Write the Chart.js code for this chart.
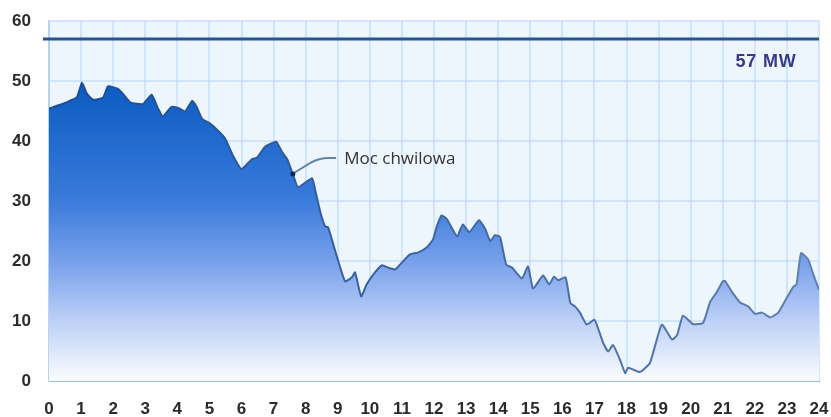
<!DOCTYPE html>
<html>
<head>
<meta charset="utf-8">
<script src="https://cdn.jsdelivr.net/npm/chart.js@4.4.1/dist/chart.umd.min.js"></script>
<style>
  html, body { margin: 0; padding: 0; background: #fff; }
  #wrap { width: 831px; height: 417px; }
</style>
</head>
<body>
<div id="wrap"><canvas id="power-chart"></canvas></div>
<script>
// Hour of day and instantaneous power (MW)
const hours = [
  0, 0.44, 0.65, 0.87, 1.03, 1.18, 1.37, 1.68, 1.84, 2.15, 2.3, 2.52, 2.73, 2.94,
  3.2, 3.4, 3.55, 3.82, 4.08, 4.24, 4.46, 4.6, 4.77, 5.02, 5.27, 5.49, 5.74, 6.0,
  6.33, 6.48, 6.73, 6.89, 7.08, 7.26, 7.42, 7.6, 7.76, 8.2, 8.29, 8.45, 8.6, 8.7,
  8.98, 9.23, 9.44, 9.54, 9.73, 9.9, 10.16, 10.38, 10.57, 10.79, 10.94, 11.25,
  11.5, 11.78, 11.97, 12.09, 12.24, 12.4, 12.72, 12.9, 13.1, 13.4, 13.6, 13.75,
  13.9, 14.06, 14.25, 14.43, 14.74, 14.93, 15.09, 15.4, 15.59, 15.74, 15.87, 16.1,
  16.25, 16.4, 16.55, 16.76, 17.0, 17.1, 17.27, 17.43, 17.58, 17.8, 17.96, 18.05,
  18.42, 18.73, 19.1, 19.42, 19.58, 19.76, 20.07, 20.39, 20.6, 20.8, 21.0, 21.07,
  21.28, 21.54, 21.8, 22.0, 22.23, 22.48, 22.73, 23.0, 23.2, 23.3, 23.44, 23.66,
  23.8, 24
];
const power = [
  45.4, 46.2, 46.7, 47.3, 49.7, 47.9, 46.9, 47.2, 49.1, 48.7, 47.9, 46.5, 46.2, 46.2,
  47.7, 45.4, 44.1, 45.7, 45.4, 44.9, 46.7, 45.7, 43.7, 42.9, 41.7, 40.4, 37.5, 35.3,
  37.0, 37.2, 39.0, 39.5, 39.9, 38.2, 37.0, 34.5, 32.3, 33.8, 32.0, 28.3, 25.8, 25.6,
  20.6, 16.6, 17.3, 18.1, 14.1, 16.1, 18.1, 19.3, 18.9, 18.6, 19.4, 21.1,
  21.4, 22.3, 23.6, 25.8, 27.6, 27.0, 24.1, 26.1, 24.8, 26.8, 25.3, 23.3,
  24.3, 24.0, 19.4, 18.9, 17.1, 19.1, 15.4, 17.6, 16.1, 17.4, 16.8, 17.3,
  13.0, 12.4, 11.4, 9.4, 10.2, 9.0, 6.4, 4.9, 6.0, 3.5, 1.3, 2.2,
  1.5, 3.0, 9.4, 6.9, 7.7, 10.9, 9.5, 9.7, 13.1, 14.7, 16.6, 16.7,
  14.9, 13.1, 12.4, 11.2, 11.4, 10.6, 11.4, 13.9, 15.7, 16.1, 21.3, 20.3,
  18.1, 15.2
];
const xTicks = [0, 24];      // hour range
const yTicks = [0, 60];      // MW range
const limitMW = 57;
const limitLabel = "57 MW";
const seriesLabel = "Moc chwilowa";
const labelAt = { x: 7.6, y: 34.5 }; // point the annotation refers to

const tickFont = { family: "'Liberation Sans', Arial, sans-serif", size: 17, weight: "bold" };

// light blue panel behind the plot
const panelBg = {
  id: "panelBg",
  beforeDraw(chart) {
    const { ctx, chartArea: a } = chart;
    ctx.save();
    ctx.fillStyle = "#eef6fd";
    ctx.fillRect(a.left, a.top, a.right - a.left, a.bottom - a.top);
    ctx.restore();
  },
};

// 57 MW line, its label, and the series callout
const extras = {
  id: "extras",
  afterDraw(chart) {
    const { ctx, chartArea: a, scales: { x, y } } = chart;
    ctx.save();
    // limit line
    const ly = y.getPixelForValue(limitMW);
    ctx.strokeStyle = "#27548f";
    ctx.lineWidth = 3;
    ctx.beginPath();
    ctx.moveTo(a.left - 6, ly);
    ctx.lineTo(a.right, ly);
    ctx.stroke();
    ctx.font = "bold 18px 'Liberation Sans', Arial, sans-serif";
    ctx.letterSpacing = "0.8px";
    ctx.fillStyle = "#39398a";
    ctx.textAlign = "right";
    ctx.textBaseline = "middle";
    ctx.fillText(limitLabel, x.getPixelForValue(23.3), y.getPixelForValue(53.1));
    ctx.letterSpacing = "0px";

    // callout
    const px = x.getPixelForValue(labelAt.x);
    const py = y.getPixelForValue(labelAt.y);
    const ty = y.getPixelForValue(37.0);
    ctx.strokeStyle = "#6484a6";
    ctx.lineWidth = 2;
    ctx.beginPath();
    ctx.moveTo(px + 1, py - 1);
    ctx.lineTo(x.getPixelForValue(8.2), ty + 3);
    ctx.quadraticCurveTo(x.getPixelForValue(8.45), ty - 1, x.getPixelForValue(8.7), ty - 1);
    ctx.lineTo(x.getPixelForValue(8.95), ty - 1);
    ctx.stroke();
    ctx.fillStyle = "#0b2a5c";
    ctx.beginPath();
    ctx.arc(px, py, 2.5, 0, Math.PI * 2);
    ctx.fill();
    ctx.font = "17px 'Open Sans', 'Noto Sans', sans-serif";
    ctx.fillStyle = "#333";
    ctx.textAlign = "left";
    ctx.fillText(seriesLabel, x.getPixelForValue(9.2), ty);
    ctx.restore();
  },
};

const ctx = document.getElementById("power-chart").getContext("2d");
const powerChart = new Chart(ctx, {
  type: "line",
  data: {
    datasets: [
      {
        label: seriesLabel,
        data: hours.map((h, i) => ({ x: h, y: power[i] })),
        borderWidth: 2,
        pointRadius: 0,
        tension: 0.15,
        fill: "origin",
        borderColor(c) {
          const a = c.chart.chartArea;
          if (!a) return "#3f66a8";
          const g = c.chart.ctx.createLinearGradient(a.left, 0, a.right, 0);
          g.addColorStop(0, "#1b4a92");
          g.addColorStop(0.4, "#36609e");
          g.addColorStop(1, "#6381ad");
          return g;
        },
        backgroundColor(c) {
          const a = c.chart.chartArea;
          if (!a) return "#5a8ae0";
          const yS = c.chart.scales.y;
          const g = c.chart.ctx.createLinearGradient(0, yS.getPixelForValue(50), 0, yS.getPixelForValue(0));
          g.addColorStop(0, "#0a5ac2");
          g.addColorStop(0.4, "#3a7bdb");
          g.addColorStop(0.6, "#77a0eb");
          g.addColorStop(0.8, "#bdd0f6");
          g.addColorStop(1, "#fbfdff");
          return g;
        },
      },
    ],
  },
  options: {
    responsive: true,
    maintainAspectRatio: false,
    animation: false,
    layout: { padding: { top: 21, right: 12, left: 0, bottom: 0 } },
    plugins: { legend: { display: false }, tooltip: { enabled: false } },
    scales: {
      x: {
        type: "linear",
        min: xTicks[0],
        max: xTicks[1],
        z: 1,
        afterFit(s) {
          s.height = 36;
          s.paddingLeft = 0;
          s.paddingRight = 0;
        },
        ticks: { stepSize: 1, color: "#2a2a2a", font: tickFont, padding: 18, maxRotation: 0, autoSkip: false },
        grid: { color: "rgba(190,216,245,0.6)", lineWidth: 2, drawTicks: false },
        border: { color: "#9dbbe0", width: 2 },
      },
      y: {
        min: yTicks[0],
        max: yTicks[1],
        z: 1,
        afterFit(s) {
          s.width = 49;
          s.paddingTop = 0;
          s.paddingBottom = 0;
        },
        ticks: { stepSize: 10, color: "#2a2a2a", font: tickFont, padding: 18 },
        grid: { color: "rgba(190,216,245,0.6)", lineWidth: 2, drawTicks: false },
        border: { color: "#b9d2ee", width: 2 },
      },
    },
  },
  plugins: [panelBg, extras],
});
</script>
</body>
</html>
